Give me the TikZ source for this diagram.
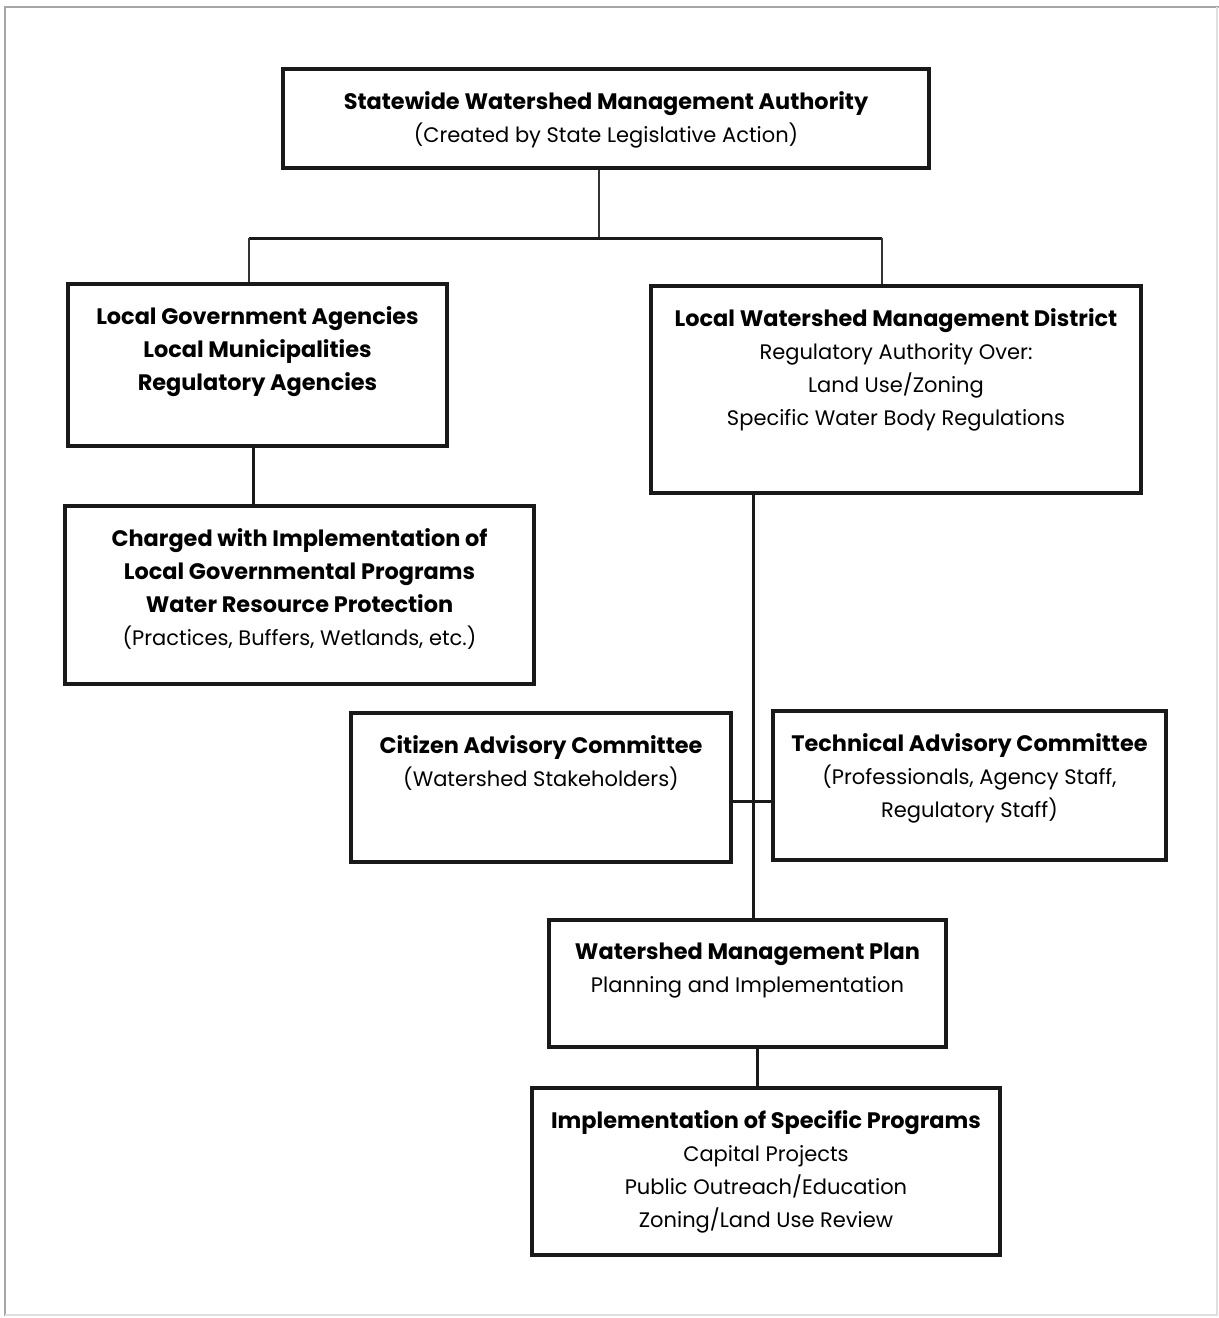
\documentclass[tikz,border=0pt]{standalone}
\usepackage{fontspec}
\setmainfont{Poppins}
\usetikzlibrary{positioning,fit}
\newcommand{\hd}[1]{{\fontsize{11.2}{16.5}\selectfont\bfseries #1}}
\begin{document}
\begin{tikzpicture}[x=0.5pt,y=-0.5pt,
    box/.style={draw=black!90,line width=1.75pt,inner sep=0pt},
    txt/.style={inner sep=0pt,align=center,font=\fontsize{10.5}{16.5}\selectfont},
    link/.style={draw=black!90,line width=1.5pt},
    thinlink/.style={draw=black!80,line width=0.7pt}]
\useasboundingbox (0,0) rectangle (1219,1318);
\draw[gray!70,line width=0.9pt] (5,1316)--(5,7)--(1219,7);
\draw[gray!25,line width=0.6pt] (5,1315)--(1217,1315)--(1217,7);
\node[box,fit={(283,69) (929,168)}] (swma) {};
\node[box,fit={(68,284) (447,446)}] (loc) {};
\node[box,fit={(65,506) (534,684)}] (chg) {};
\node[box,fit={(651,286) (1141,493)}] (lwmd) {};
\node[box,fit={(351,713) (731,862)}] (cac) {};
\node[box,fit={(773,711) (1166,860)}] (tac) {};
\node[box,fit={(549,920) (946,1047)}] (wmp) {};
\node[box,fit={(532,1088) (1000,1255)}] (impl) {};
\node[txt,below=12pt of swma.north] (swma-t) {\hd{Statewide Watershed Management Authority}\\(Created by State Legislative Action)};
\node[txt,below=12pt of loc.north] (loc-t) {\hd{Local Government Agencies}\\\hd{Local Municipalities}\\\hd{Regulatory Agencies}};
\node[txt,below=12pt of chg.north] (chg-t) {\hd{Charged with Implementation of}\\\hd{Local Governmental Programs}\\\hd{Water Resource Protection}\\(Practices, Buffers, Wetlands, etc.)};
\node[txt,below=12pt of lwmd.north] (lwmd-t) {\hd{Local Watershed Management District}\\Regulatory Authority Over:\\Land Use/Zoning\\Specific Water Body Regulations};
\node[txt,below=12pt of cac.north] (cac-t) {\hd{Citizen Advisory Committee}\\(Watershed Stakeholders)};
\node[txt,below=12pt of tac.north] (tac-t) {\hd{Technical Advisory Committee}\\(Professionals, Agency Staff,\\Regulatory Staff)};
\node[txt,below=12pt of wmp.north] (wmp-t) {\hd{Watershed Management Plan}\\Planning and Implementation};
\node[txt,below=12pt of impl.north] (impl-t) {\hd{Implementation of Specific Programs}\\Capital Projects\\Public Outreach/Education\\Zoning/Land Use Review};
\coordinate (tap) at (599,238);
\coordinate (busL) at (249,238);
\coordinate (busR) at (882,238);
\coordinate (spine) at (753,801);
\coordinate (drop) at (757,1068);
\draw[thinlink] (swma.south -| tap) -- (tap);
\draw[link] (busL) -- (busR);
\draw[thinlink] (busL) -- (busL |- loc.north);
\draw[thinlink] (busR) -- (busR |- lwmd.north);
\draw[link] (loc.south) ++(-4.5,0) -- ([xshift=-2.25pt]loc.south |- chg.north);
\draw[link] (spine |- lwmd.south) -- (spine |- wmp.north);
\draw[link] (spine -| cac.east) -- (spine -| tac.west);
\draw[link] (drop |- wmp.south) -- (drop |- impl.north);
\end{tikzpicture}
\end{document}
